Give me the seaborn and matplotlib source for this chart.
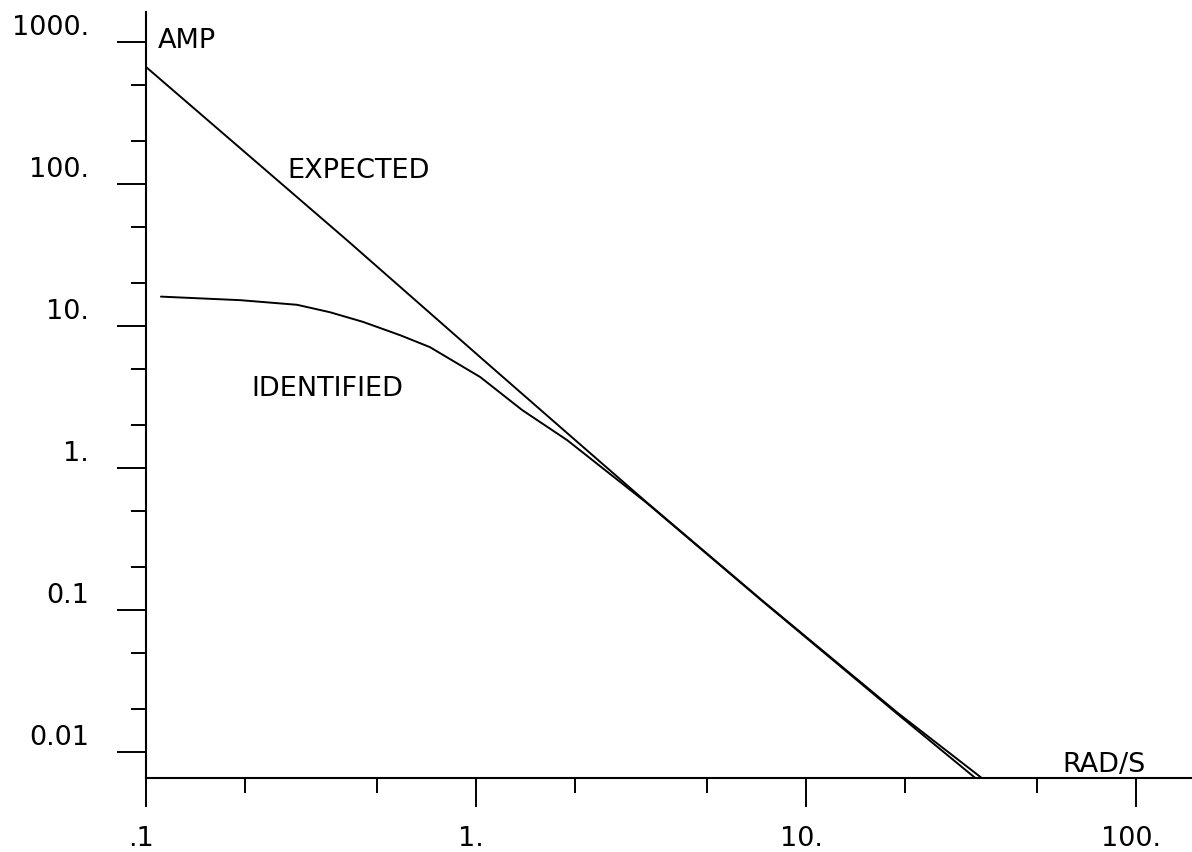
import matplotlib
matplotlib.use("Agg")
import matplotlib.pyplot as plt
from matplotlib.ticker import LogLocator, NullFormatter
import seaborn as sns

# Frequency response magnitude (rad/s vs amplitude)
freq_expected = [0.1, 0.406, 1.05, 1.89, 3.3, 7.36, 19.0, 34.1]
amp_expected = [667, 40.3, 5.8, 1.76, 0.57, 0.117, 0.0188, 0.00656]

freq_identified = [0.111, 0.193, 0.287, 0.361, 0.454, 0.59, 0.725, 1.03, 1.38,
                   1.89, 3.3, 7.36, 19.0, 32.6]
amp_identified = [16.1, 15.2, 14.1, 12.5, 10.7, 8.6, 7.1, 4.37, 2.56,
                  1.57, 0.565, 0.116, 0.0184, 0.00656]

x_ticks = [0.1, 1, 10, 100]
x_tick_labels = [".1", "1.", "10.", "100."]
y_ticks = [0.01, 0.1, 1, 10, 100, 1000]
y_tick_labels = ["0.01", "0.1", "1.", "10.", "100.", "1000."]

sns.set_theme(style="white")
plt.rcParams["font.family"] = ["DejaVu Sans"]

W, H = 1192, 852
fig = plt.figure(figsize=(W / 100, H / 100), dpi=100)
ax = fig.add_axes([146 / W, 74 / H, 1046 / W, 766 / H])
ax.set_xscale("log")
ax.set_yscale("log")

line_kw = dict(color="black", linewidth=1.4, estimator=None, ax=ax)
sns.lineplot(x=freq_expected, y=amp_expected, **line_kw)
sns.lineplot(x=freq_identified, y=amp_identified, **line_kw)

ax.set_xlim(0.1, 147.9)
ax.set_ylim(0.00656, 1626)

ax.xaxis.set_major_locator(LogLocator(base=10, numticks=10))
ax.yaxis.set_major_locator(LogLocator(base=10, numticks=10))
ax.xaxis.set_minor_locator(LogLocator(base=10, subs=(2, 5), numticks=10))
ax.yaxis.set_minor_locator(LogLocator(base=10, subs=(2, 5), numticks=10))
for axis in (ax.xaxis, ax.yaxis):
    axis.set_major_formatter(NullFormatter())
    axis.set_minor_formatter(NullFormatter())

ax.tick_params(which="major", direction="out", length=21, width=1.4,
               color="black", bottom=True, left=True)
ax.tick_params(which="minor", direction="out", length=10.5, width=1.4,
               color="black", bottom=True, left=True)

for side in ("top", "right"):
    ax.spines[side].set_visible(False)
for side in ("left", "bottom"):
    ax.spines[side].set_color("black")
    ax.spines[side].set_linewidth(1.5)

fs = 19.5
txt = dict(fontsize=fs, color="black", annotation_clip=False)

for v, lbl in zip(y_ticks, y_tick_labels):
    ax.annotate(lbl, xy=(0, v), xycoords=("axes fraction", "data"),
                xytext=(-57, 7), textcoords="offset pixels",
                ha="right", va="baseline", **txt)

for v, lbl in zip(x_ticks, x_tick_labels):
    ax.annotate(lbl, xy=(v, 0), xycoords=("data", "axes fraction"),
                xytext=(-5, -68), textcoords="offset pixels",
                ha="center", va="baseline", **txt)

ax.text(0.1087, 907, "AMP", fontsize=fs, color="black", ha="left", va="baseline")
ax.text(59.7, 0.00723, "RAD/S", fontsize=fs, color="black", ha="left", va="baseline")
ax.text(0.269, 110, "EXPECTED", fontsize=fs, color="black", ha="left", va="baseline")
ax.text(0.208, 3.21, "IDENTIFIED", fontsize=fs, color="black", ha="left", va="baseline")

fig.savefig("out.png", dpi=100)
